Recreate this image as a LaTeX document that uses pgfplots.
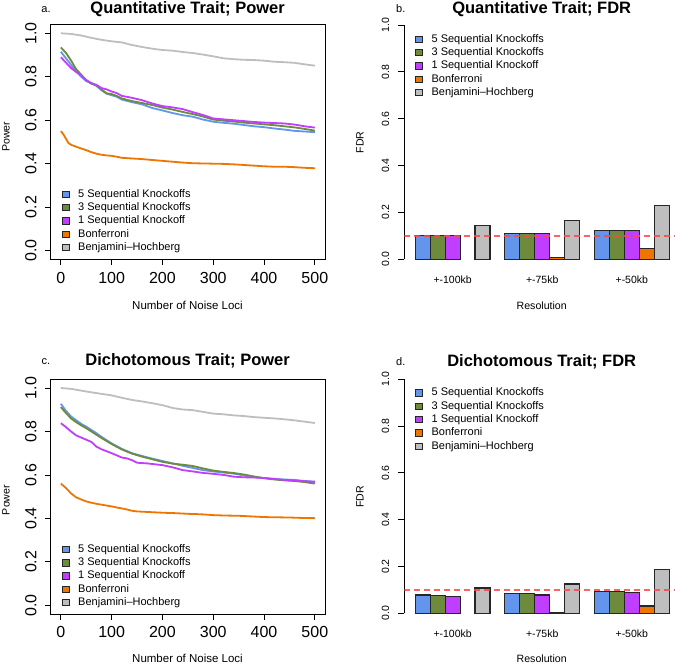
\documentclass[border=0pt]{standalone}
\usepackage{fontspec}
\setmainfont{Liberation Sans}
\usepackage{pgfplots}
\pgfplotsset{compat=1.18}
\definecolor{cblue}{HTML}{6495ED}
\definecolor{cgreen}{HTML}{6E8B3D}
\definecolor{cpurple}{HTML}{BF3EFF}
\definecolor{corange}{HTML}{EE7600}
\definecolor{cgray}{HTML}{BEBEBE}
\definecolor{rline}{RGB}{255,70,70}
\pgfplotsset{
  lgbox/.style={legend image code/.code={\draw[black!85,line width=0.6pt,fill=#1] (0pt,-3.2pt) rectangle (6.5pt,3.2pt);}},
  mylegend/.style={legend style={draw=none, fill=none, font=\fontsize{11}{13}\selectfont,
     at={#1}, anchor=north west, inner sep=0pt, row sep=1.3pt, column sep=8.5pt,
     nodes={inner sep=0.5pt, text height=8.5pt, text depth=2.5pt}}, legend cell align=left},
  lineaxis/.style={scale only axis, width=274.3pt, height=234.7pt,
     xmin=-20, xmax=520, ymin=-0.04, ymax=1.04,
     xtick={0,100,200,300,400,500}, ytick={0,0.2,0.4,0.6,0.8,1},
     tick align=outside, tick pos=left, major tick length=5.7pt,
     tick style={black, line width=0.8pt}, axis line style={line width=0.9pt},
     /pgf/number format/assume math mode=true,
     tick label style={font=\fontsize{16}{16}\selectfont},
     yticklabel style={rotate=90, anchor=south, /pgf/number format/.cd, fixed, fixed zerofill, precision=1},
     yticklabel shift=5pt, xticklabel shift=3.3pt},
  baraxis/.style={scale only axis, width=274.7pt, height=#1,
     xmin=0.263, xmax=18.66, ymin=0, ymax=1,
     axis lines*=left, x axis line style={draw=none}, y axis line style={line width=0.9pt},
     xtick={3.5,9.5,15.5}, xticklabels={+-100kb,+-75kb,+-50kb},
     xtick style={draw=none}, ytick={0,0.2,0.4,0.6,0.8,1},
     tick align=outside, major tick length=6.5pt, ytick style={black, line width=0.8pt},
     /pgf/number format/assume math mode=true,
     tick label style={font=\fontsize{10.5}{11}\selectfont},
     yticklabel style={rotate=90, anchor=south, /pgf/number format/.cd, fixed, fixed zerofill, precision=1},
     yticklabel shift=5pt, xticklabel shift=6.3pt},
  bars/.style={ybar, bar width=1, draw=black!85, line width=1.1pt, fill=#1, lgbox=#1},
  curve/.style={draw=#1, line width=1.8pt, lgbox=#1},
}
\begin{document}
\begin{tikzpicture}
\clip (0pt,0pt) rectangle (675pt,664pt);
\useasboundingbox (0pt,0pt) rectangle (675pt,664pt);

% ---------------- Panel a ----------------
\begin{axis}[lineaxis, at={(50.7pt,404.7pt)}, anchor=south west, mylegend={(axis description cs:0.041,0.304)}]
\addplot[curve=cblue] coordinates {(0,0.915)(10,0.885)(20,0.855)(30,0.825)(40,0.80)(50,0.78)(60,0.772)(70,0.758)(80,0.738)(90,0.722)(100,0.715)(110,0.708)(120,0.695)(140,0.683)(160,0.673)(180,0.656)(200,0.645)(220,0.633)(240,0.623)(260,0.616)(280,0.603)(300,0.593)(320,0.588)(340,0.584)(360,0.578)(380,0.572)(400,0.568)(420,0.562)(440,0.557)(460,0.551)(480,0.548)(500,0.545)};
\addlegendentry{5 Sequential Knockoffs}
\addplot[curve=cgreen] coordinates {(0,0.935)(10,0.91)(20,0.875)(30,0.835)(40,0.81)(50,0.783)(60,0.768)(70,0.76)(80,0.742)(90,0.724)(100,0.72)(110,0.712)(120,0.7)(140,0.688)(160,0.679)(180,0.67)(200,0.658)(220,0.649)(240,0.638)(260,0.628)(280,0.617)(300,0.603)(320,0.598)(340,0.594)(360,0.589)(380,0.585)(400,0.581)(420,0.577)(440,0.572)(460,0.567)(480,0.56)(500,0.552)};
\addlegendentry{3 Sequential Knockoffs}
\addplot[curve=cpurple] coordinates {(0,0.89)(10,0.865)(20,0.84)(30,0.822)(40,0.807)(50,0.785)(60,0.77)(70,0.763)(80,0.748)(90,0.742)(100,0.732)(110,0.725)(120,0.712)(140,0.703)(160,0.692)(180,0.677)(200,0.665)(220,0.659)(240,0.651)(260,0.637)(280,0.624)(300,0.608)(320,0.604)(340,0.6)(360,0.596)(380,0.592)(400,0.589)(420,0.587)(440,0.585)(460,0.58)(480,0.572)(500,0.566)};
\addlegendentry{1 Sequential Knockoff}
\addplot[curve=corange] coordinates {(0,0.55)(5,0.535)(10,0.515)(15,0.495)(20,0.487)(30,0.478)(40,0.47)(50,0.462)(60,0.453)(70,0.446)(80,0.441)(90,0.438)(100,0.436)(110,0.432)(120,0.427)(140,0.424)(160,0.421)(180,0.417)(200,0.413)(220,0.409)(240,0.405)(260,0.402)(280,0.401)(300,0.4)(320,0.399)(340,0.397)(360,0.394)(380,0.391)(400,0.388)(420,0.386)(440,0.386)(460,0.384)(480,0.381)(500,0.379)};
\addlegendentry{Bonferroni}
\addplot[curve=cgray] coordinates {(0,1.0)(20,0.997)(40,0.99)(60,0.979)(80,0.97)(100,0.963)(120,0.958)(140,0.946)(160,0.937)(180,0.929)(200,0.923)(220,0.92)(240,0.914)(260,0.909)(280,0.902)(300,0.894)(320,0.885)(340,0.881)(360,0.878)(380,0.877)(400,0.874)(420,0.869)(440,0.867)(460,0.864)(480,0.857)(500,0.851)};
\addlegendentry{Benjamini--Hochberg}
\end{axis}

% ---------------- Panel b ----------------
\begin{axis}[baraxis=234.3pt, at={(404.3pt,404.7pt)}, anchor=south west, mylegend={(axis description cs:0.04,0.966)}]
\addplot[bars=cblue] coordinates {(1.5,0.102)(7.5,0.110)(13.5,0.124)};
\addlegendentry{5 Sequential Knockoffs}
\addplot[bars=cgreen] coordinates {(2.5,0.103)(8.5,0.111)(14.5,0.122)};
\addlegendentry{3 Sequential Knockoffs}
\addplot[bars=cpurple] coordinates {(3.5,0.101)(9.5,0.110)(15.5,0.122)};
\addlegendentry{1 Sequential Knockoff}
\addplot[bars=corange] coordinates {(10.5,0.006)(16.5,0.046)};
\addlegendentry{Bonferroni}
\addplot[bars=cgray] coordinates {(5.5,0.146)(11.5,0.166)(17.5,0.229)};
\addlegendentry{Benjamini--Hochberg}
\addplot[forget plot, draw=rline, opacity=0.85, line width=1.4pt, dash pattern=on 6pt off 4pt] coordinates {(0.263,0.1)(18.66,0.1)};
\end{axis}

% ---------------- Panel c ----------------
\begin{axis}[lineaxis, at={(50.7pt,50pt)}, anchor=south west, mylegend={(axis description cs:0.041,0.302)}]
\addplot[curve=cblue] coordinates {(0,0.927)(10,0.895)(20,0.869)(30,0.852)(40,0.835)(50,0.822)(60,0.807)(70,0.792)(80,0.775)(90,0.76)(100,0.745)(120,0.72)(140,0.7)(160,0.687)(180,0.675)(200,0.664)(220,0.653)(240,0.642)(260,0.632)(280,0.622)(300,0.616)(320,0.611)(340,0.606)(360,0.598)(380,0.59)(400,0.585)(420,0.581)(440,0.579)(460,0.577)(480,0.572)(500,0.569)};
\addlegendentry{5 Sequential Knockoffs}
\addplot[curve=cgreen] coordinates {(0,0.912)(10,0.885)(20,0.86)(30,0.843)(40,0.828)(50,0.815)(60,0.8)(70,0.785)(80,0.77)(90,0.756)(100,0.742)(120,0.717)(140,0.698)(160,0.684)(180,0.672)(200,0.66)(220,0.652)(240,0.647)(260,0.641)(280,0.63)(300,0.62)(320,0.614)(340,0.609)(360,0.602)(380,0.593)(400,0.585)(420,0.579)(440,0.575)(460,0.572)(480,0.567)(500,0.56)};
\addlegendentry{3 Sequential Knockoffs}
\addplot[curve=cpurple] coordinates {(0,0.838)(10,0.82)(20,0.8)(30,0.782)(40,0.772)(50,0.762)(60,0.752)(70,0.73)(80,0.718)(90,0.709)(100,0.7)(110,0.69)(120,0.68)(130,0.676)(140,0.668)(150,0.656)(170,0.653)(200,0.645)(220,0.635)(240,0.622)(260,0.616)(280,0.609)(300,0.605)(320,0.6)(340,0.592)(360,0.589)(380,0.588)(400,0.586)(420,0.582)(440,0.577)(460,0.574)(480,0.571)(500,0.568)};
\addlegendentry{1 Sequential Knockoff}
\addplot[curve=corange] coordinates {(0,0.56)(10,0.54)(20,0.515)(30,0.497)(40,0.487)(50,0.478)(60,0.472)(70,0.467)(80,0.463)(90,0.459)(100,0.455)(110,0.45)(120,0.446)(130,0.441)(140,0.435)(150,0.432)(175,0.429)(200,0.426)(225,0.424)(250,0.421)(275,0.419)(300,0.415)(325,0.413)(350,0.412)(375,0.409)(400,0.406)(425,0.405)(450,0.404)(475,0.402)(500,0.401)};
\addlegendentry{Bonferroni}
\addplot[curve=cgray] coordinates {(0,1.0)(20,0.996)(40,0.988)(60,0.98)(80,0.973)(100,0.966)(120,0.955)(140,0.945)(160,0.938)(180,0.93)(200,0.921)(220,0.908)(240,0.901)(260,0.898)(280,0.89)(300,0.882)(320,0.879)(340,0.874)(360,0.871)(380,0.866)(400,0.863)(420,0.86)(440,0.856)(460,0.851)(480,0.845)(500,0.839)};
\addlegendentry{Benjamini--Hochberg}
\end{axis}

% ---------------- Panel d ----------------
\begin{axis}[baraxis=234pt, at={(404.3pt,50.7pt)}, anchor=south west, mylegend={(axis description cs:0.04,0.968)}]
\addplot[bars=cblue] coordinates {(1.5,0.078)(7.5,0.084)(13.5,0.094)};
\addlegendentry{5 Sequential Knockoffs}
\addplot[bars=cgreen] coordinates {(2.5,0.077)(8.5,0.084)(14.5,0.093)};
\addlegendentry{3 Sequential Knockoffs}
\addplot[bars=cpurple] coordinates {(3.5,0.073)(9.5,0.078)(15.5,0.088)};
\addlegendentry{1 Sequential Knockoff}
\addplot[bars=corange] coordinates {(10.5,0.004)(16.5,0.031)};
\addlegendentry{Bonferroni}
\addplot[bars=cgray] coordinates {(5.5,0.108)(11.5,0.125)(17.5,0.188)};
\addlegendentry{Benjamini--Hochberg}
\addplot[forget plot, draw=rline, opacity=0.85, line width=1.4pt, dash pattern=on 6pt off 4pt] coordinates {(0.263,0.1)(18.66,0.1)};
\end{axis}

% ---------------- titles and labels ----------------
\node[anchor=base, font=\fontsize{16.5}{18}\selectfont\bfseries] at (187.6pt,650pt) {Quantitative Trait; Power};
\node[anchor=base, font=\fontsize{16.5}{18}\selectfont\bfseries] at (541.7pt,650.7pt) {Quantitative Trait; FDR};
\node[anchor=base, font=\fontsize{16.5}{18}\selectfont\bfseries] at (187.6pt,298pt) {Dichotomous Trait; Power};
\node[anchor=base, font=\fontsize{16.5}{18}\selectfont\bfseries] at (541.7pt,297.3pt) {Dichotomous Trait; FDR};
\node[anchor=base, font=\fontsize{11}{12}\selectfont] at (46pt,651pt) {a.};
\node[anchor=base, font=\fontsize{11}{12}\selectfont] at (400.8pt,651pt) {b.};
\node[anchor=base, font=\fontsize{11}{12}\selectfont] at (45.8pt,299pt) {c.};
\node[anchor=base, font=\fontsize{11}{12}\selectfont] at (400.8pt,298pt) {d.};
\node[anchor=base, font=\fontsize{11.5}{12}\selectfont] at (187.5pt,354pt) {Number of Noise Loci};
\node[anchor=base, font=\fontsize{11.5}{12}\selectfont] at (187.5pt,1pt) {Number of Noise Loci};
\node[anchor=base, font=\fontsize{10.6}{12}\selectfont] at (541.7pt,354.7pt) {Resolution};
\node[anchor=base, font=\fontsize{10.6}{12}\selectfont] at (541.7pt,1pt) {Resolution};
\node[rotate=90, font=\fontsize{10.6}{12}\selectfont] at (6pt,527.3pt) {Power};
\node[rotate=90, font=\fontsize{10.6}{12}\selectfont] at (6pt,164pt) {Power};
\node[rotate=90, font=\fontsize{10.6}{12}\selectfont] at (360pt,521.5pt) {FDR};
\node[rotate=90, font=\fontsize{10.6}{12}\selectfont] at (360pt,167.3pt) {FDR};
\end{tikzpicture}
\end{document}
